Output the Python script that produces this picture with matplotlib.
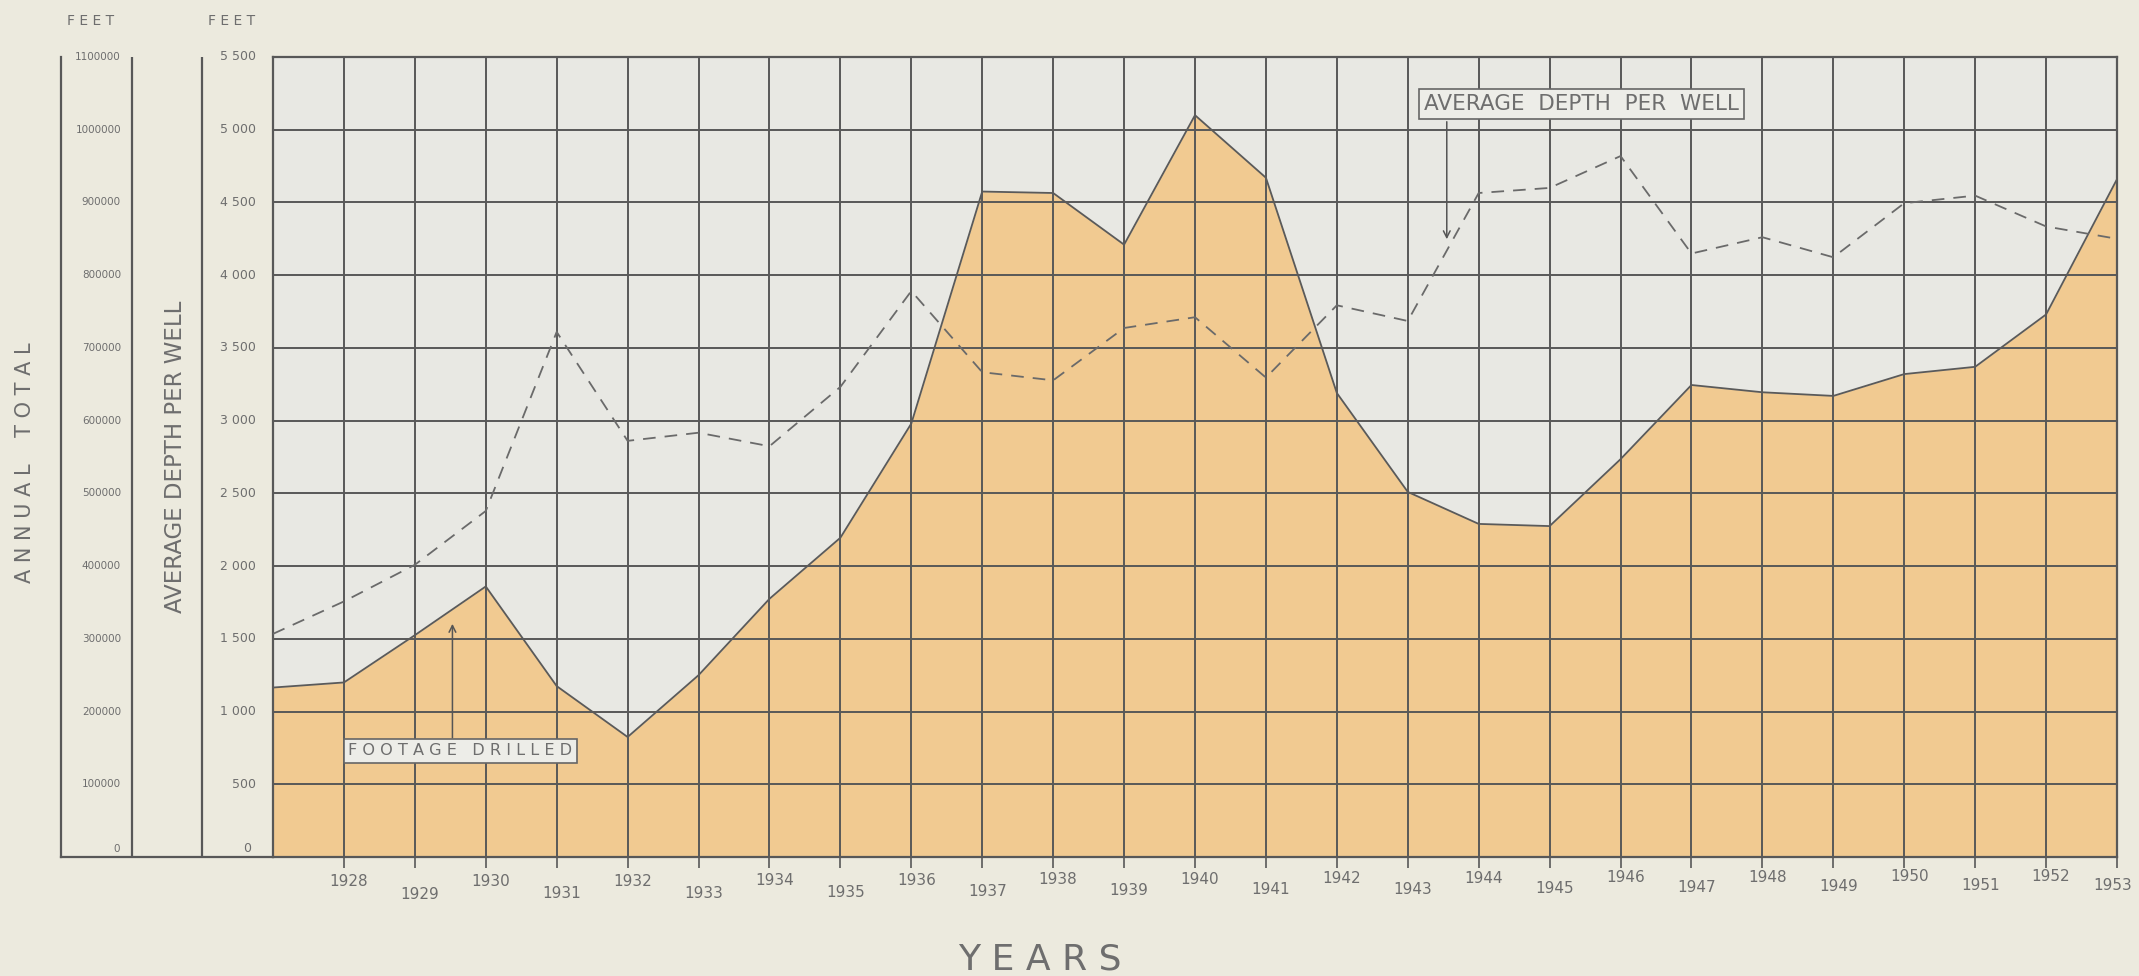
import matplotlib
matplotlib.use("Agg")
import matplotlib.pyplot as plt
from matplotlib.transforms import blended_transform_factory as btf

# ---------------- data ----------------
years = list(range(1927, 1954))
footage_drilled = [233000, 240000, 305000, 372000, 235000, 165000, 250000, 355000,
                   439000, 596000, 915000, 913000, 842000, 1020000, 934000, 638000,
                   502000, 458000, 455000, 547000, 649000, 639000, 634000, 664000,
                   674000, 746000, 932000]
avg_depth = [1534, 1757, 2009, 2379, 3610, 2861, 2917, 2824, 3232, 3891, 3333, 3277,
             3637, 3711, 3296, 3793, 3685, 4565, 4600, 4819, 4149, 4261, 4123, 4495,
             4547, 4335, 4250]
total_ticks = [0, 100000, 200000, 300000, 400000, 500000, 600000, 700000, 800000,
               900000, 1000000, 1100000]
total_labels = ["0", "100000", "200000", "300000", "400000", "500000", "600000",
                "700000", "800000", "900000", "1000000", "1100000"]
depth_ticks = [0, 500, 1000, 1500, 2000, 2500, 3000, 3500, 4000, 4500, 5000, 5500]
depth_labels = ["0", "500", "1 000", "1 500", "2 000", "2 500", "3 000", "3 500",
                "4 000", "4 500", "5 000", "5 500"]

# ---------------- style ----------------
PAPER = "#ECEADE"
INNER = "#E8E8E3"
FILL = "#F1CA91"
GRID = "#585858"
TXT = "#6E6E6E"
DASH = "#6A6A6A"

W, H = 2139, 976
fig = plt.figure(figsize=(W / 100, H / 100), dpi=100, facecolor=PAPER)
plt.rcParams["font.family"] = ["DejaVu Sans"]

L, R, T, B = 273, 2117, 57, 857


def rect(x0, x1):
    return [x0 / W, 1 - B / H, (x1 - x0) / W, (B - T) / H]


# ---------------- main plot ----------------
ax = fig.add_axes(rect(L, R))
ax.set_facecolor(INNER)
ax.set_xlim(years[0], years[-1])
ax.set_ylim(0, total_ticks[-1])
ax.fill_between(years, footage_drilled, 0, color=FILL, lw=0, zorder=1)
ax.plot(years, footage_drilled, color="#5A5A5A", lw=1.3, zorder=3)
ax.set_xticks(years[1:])
ax.set_yticks(total_ticks)
ax.set_axisbelow(False)
ax.grid(True, color=GRID, lw=1.4)
ax.tick_params(axis="x", length=8, width=1.2, color=GRID, labelbottom=False)
ax.tick_params(axis="y", length=0, labelleft=False)
for s in ax.spines.values():
    s.set_color(GRID)
    s.set_linewidth(1.6)

ax2 = ax.twinx()
ax2.set_ylim(0, depth_ticks[-1])
ax2.set_yticks([])
for s in ax2.spines.values():
    s.set_visible(False)
ax2.plot(years, avg_depth, color=DASH, lw=1.3, ls=(0, (7, 5)), zorder=4)

# year labels (staggered, hand-lettered look)
for i, yr in enumerate(years[1:]):
    frac = i / 25
    if yr % 2 == 0:
        yc = 882 - 6 * frac
    else:
        yc = 895 - 10 * frac
    dx = 5 if yr != years[-1] else -4
    ax.annotate(str(yr), xy=(yr, 0), xycoords=("data", "axes fraction"),
                xytext=(dx, -(yc - B)), textcoords="offset pixels",
                ha="center", va="center", fontsize=11, color=TXT)

# annotations
ax2.annotate("", xy=(1929.53, 1622), xytext=(1929.53, 800),
             arrowprops=dict(arrowstyle="->", color="#555555", lw=1.1,
                             mutation_scale=12), zorder=5)
ax2.text(1929.64, 729, "F O O T A G E   D R I L L E D", ha="center", va="center",
         fontsize=11.6, color=TXT, zorder=6,
         bbox=dict(boxstyle="square,pad=0.28", fc="#EDEDE8", ec="#666666", lw=1.2))
ax2.annotate("", xy=(1943.55, 4228), xytext=(1943.55, 5074),
             arrowprops=dict(arrowstyle="->", color="#555555", lw=1.1,
                             mutation_scale=12), zorder=5)
ax2.text(1945.45, 5177, "AVERAGE  DEPTH  PER  WELL", ha="center", va="center",
         fontsize=15.5, color=TXT, zorder=6,
         bbox=dict(boxstyle="square,pad=0.22", fc="#EDEDE8", ec="#666666", lw=1.2))

# ---------------- scale columns on the left ----------------
axl = fig.add_axes(rect(61, L))
axl.set_xlim(0, 1)
axl.set_ylim(0, depth_ticks[-1])
axl.patch.set_visible(False)
axl.set_xticks([])
axl.set_yticks([])
for k in ("top", "right"):
    axl.spines[k].set_visible(False)
for k in ("left", "bottom"):
    axl.spines[k].set_color(GRID)
    axl.spines[k].set_linewidth(1.6)
c1 = (132 - 61) / (L - 61)
c2 = (202 - 61) / (L - 61)
axl.axvline(c1, color=GRID, lw=1.6)
axl.axvline(c2, color=GRID, lw=1.6)

axt = axl.twinx()
axt.set_ylim(0, total_ticks[-1])
axt.set_yticks([])
for s in axt.spines.values():
    s.set_visible(False)

tr_t = btf(axl.transAxes, axt.transData)
for v, lab in zip(total_ticks, total_labels):
    if v == 0:
        axt.annotate(lab, xy=((117 - 61) / (L - 61), v), xycoords=tr_t,
                     xytext=(0, 8), textcoords="offset pixels",
                     ha="center", va="center", fontsize=7.5, color=TXT)
    else:
        axt.text((121 - 61) / (L - 61), v, lab, transform=tr_t, ha="right",
                 va="center", fontsize=7.5, color=TXT)

tr_d = btf(axl.transAxes, axl.transData)
for v, lab in zip(depth_ticks, depth_labels):
    if v == 0:
        axl.annotate(lab, xy=((247 - 61) / (L - 61), v), xycoords=tr_d,
                     xytext=(0, 8), textcoords="offset pixels",
                     ha="center", va="center", fontsize=9, color=TXT)
    else:
        axl.text((256 - 61) / (L - 61), v, lab, transform=tr_d, ha="right",
                 va="center", fontsize=9, color=TXT)


def ftext(x, y, s, **kw):
    fig.text(x / W, 1 - y / H, s, ha="center", va="center", color=TXT, **kw)


ftext(91, 21, "F E E T", fontsize=10)
ftext(232, 21, "F E E T", fontsize=10)
ftext(25, 463, "A N N U A L    T O T A L", fontsize=15, rotation=90)
ftext(176, 457, "AVERAGE DEPTH PER WELL", fontsize=16.5, rotation=90)
ftext(1040, 960, "Y E A R S", fontsize=26)

fig.savefig("out.png", dpi=100, facecolor=PAPER)
